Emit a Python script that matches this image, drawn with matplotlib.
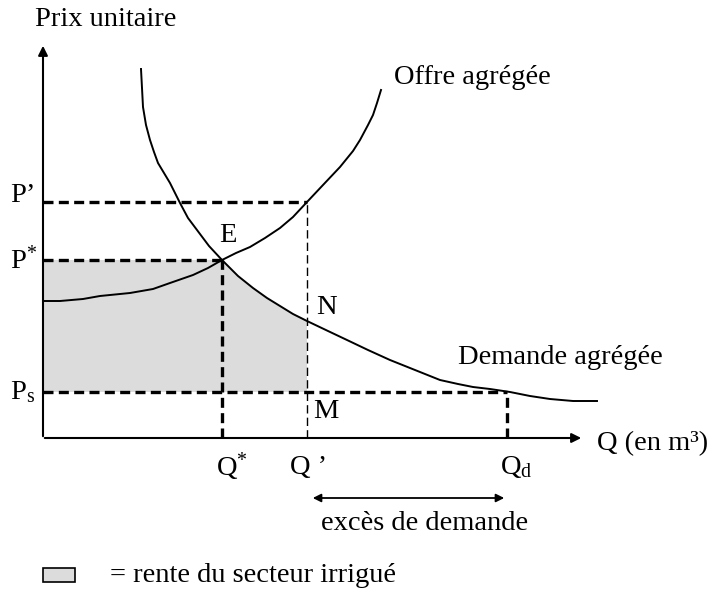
import numpy as np
import matplotlib.pyplot as plt
from matplotlib.patches import Rectangle

plt.rcParams['font.family'] = ['Liberation Serif', 'DejaVu Serif']
plt.rcParams['mathtext.fontset'] = 'custom'
plt.rcParams['mathtext.rm'] = 'Liberation Serif'
plt.rcParams['mathtext.it'] = 'Liberation Serif:italic'

# curves (x = quantity, y = price, origin at the axes corner)
offre_q = [0, 17, 40, 57, 87, 110, 127, 150, 165, 179, 193, 207, 222, 237, 250,
           264, 280, 297, 310, 317, 325, 330, 334, 338]
offre_p = [137, 137, 139, 142, 145, 149, 155, 163, 170, 178, 185, 191, 200, 210,
           221, 236, 253, 271, 287, 298, 313, 323, 335, 348]
demande_q = [98, 99, 100, 103, 107, 111, 115, 121, 127, 137, 145, 154, 166, 179,
             195, 210, 224, 237, 250, 264, 285, 304, 325, 347, 372, 397, 415,
             430, 447, 467, 487, 507, 530, 554]
demande_p = [369, 350, 331, 313, 298, 286, 275, 265, 255, 235, 220, 208, 192,
             178, 162, 150, 140, 132, 124, 117, 107, 98, 88, 78, 68, 58, 54,
             51, 49, 46, 42, 39, 37, 37]

# levels
p_prime, p_star, p_s = 236, 178, 46
q_star, q_prime, q_d = 179, 264, 464
n_price = 117

fig = plt.figure(figsize=(7.11, 6), dpi=100)
ax = fig.add_axes([0, 0, 1, 1])
ax.set_xlim(-43, 668)
ax.set_ylim(-162, 438)
ax.axis('off')

# shaded rent area
dq = np.array(demande_q)
dp = np.array(demande_p)
mask = (dq > q_star) & (dq < q_prime)
poly_x = [0, q_star] + list(dq[mask]) + [q_prime, q_prime, 0]
poly_y = [p_star, p_star] + list(dp[mask]) + [n_price, p_s, p_s]
ax.fill(poly_x, poly_y, color='#dcdcdc', lw=0, zorder=1)

# axes with arrows
ax.annotate('', xy=(0, 395), xytext=(0, -1),
            arrowprops=dict(arrowstyle='-|>', lw=1.5, color='black', mutation_scale=14))
ax.annotate('', xy=(541, 0), xytext=(-1, 0),
            arrowprops=dict(arrowstyle='-|>', lw=1.5, color='black', mutation_scale=14))

# curves
ax.plot(offre_q, offre_p, color='black', lw=1.4, zorder=3)
ax.plot(demande_q, demande_p, color='black', lw=1.4, zorder=3)

# dashed guides
thick = dict(color='black', lw=2.4, ls=(0, (3, 1.6)), zorder=2)
ax.plot([0, q_prime], [p_prime, p_prime], **thick)
ax.plot([0, q_star], [p_star, p_star], **thick)
ax.plot([0, q_d], [p_s, p_s], **thick)
ax.plot([q_star, q_star], [0, p_star], **thick)
ax.plot([q_d, q_d], [0, p_s], **thick)
ax.plot([q_prime, q_prime], [0, p_prime], color='black', lw=1, ls=(0, (6, 3)), zorder=2)

fs = 20.5
ax.text(-8, 418, 'Prix unitaire', fontsize=fs, ha='left', va='center')
ax.text(351, 361, 'Offre agrégée', fontsize=fs, ha='left', va='center')
ax.text(415, 80, 'Demande agrégée', fontsize=fs, ha='left', va='center')
ax.text(185, 202, 'E', fontsize=fs, ha='center', va='center')
ax.text(283, 130, 'N', fontsize=fs, ha='center', va='center')
ax.text(283, 26, 'M', fontsize=fs, ha='center', va='center')

ax.text(-33, 242, 'P’', fontsize=fs, ha='left', va='center')
ax.text(-33, 178, r'P$^{*}$', fontsize=fs, ha='left', va='center')
ax.text(-33, 46, r'P$_{\mathrm{s}}$', fontsize=fs, ha='left', va='center')

ax.text(189, -29, r'Q$^{*}$', fontsize=fs, ha='center', va='center')
ax.text(266, -29, 'Q ’', fontsize=fs, ha='center', va='center')
ax.text(473, -29, r'Q$_{\mathrm{d}}$', fontsize=fs, ha='center', va='center')
ax.text(554, -6, 'Q (en m³)', fontsize=fs, ha='left', va='center')

# excess demand arrow
ax.annotate('', xy=(267, -60), xytext=(464, -60),
            arrowprops=dict(arrowstyle='<|-|>', lw=1.3, color='black',
                            mutation_scale=12))
ax.text(382, -85, 'excès de demande', fontsize=fs, ha='center', va='center')

# legend box
ax.add_patch(Rectangle((0, -144), 32, 14, facecolor='#dcdcdc', edgecolor='black',
                       lw=1.2))
ax.text(67, -137, '= rente du secteur irrigué', fontsize=fs, ha='left', va='center')

fig.savefig('out.png', dpi=100)
